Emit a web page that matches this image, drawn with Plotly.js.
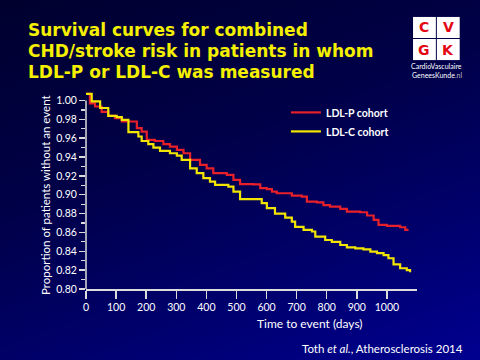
<!DOCTYPE html>
<html>
<head>
<meta charset="utf-8">
<script src="https://cdn.plot.ly/plotly-3.0.1.min.js"></script>
<style>
  html, body { margin: 0; padding: 0; }
  body {
    width: 480px; height: 360px; overflow: hidden;
    background: linear-gradient(160deg, #00002e 0%, #000048 40%, #00006a 70%, #000090 100%);
  }
  #chart { width: 480px; height: 360px; }
</style>
</head>
<body>
<div id="chart"></div>
<script>
// Time to event (days) and survival proportions
const ldlpDays = [0, 13, 30, 52, 74, 96, 119, 146, 169, 185, 202, 229, 257, 279, 302, 324, 346, 379, 401, 423, 468, 490, 512, 556, 579, 601, 618, 634, 662, 684, 717, 734, 767, 789, 811, 845, 867, 911, 934, 956, 972, 1000, 1044, 1061, 1072];
const ldlpSurv = [1.007, 0.997, 0.9936, 0.988, 0.9837, 0.9813, 0.9777, 0.9777, 0.9707, 0.967, 0.9583, 0.957, 0.9537, 0.951, 0.9476, 0.944, 0.937, 0.9317, 0.928, 0.923, 0.921, 0.9158, 0.9112, 0.911, 0.907, 0.906, 0.9034, 0.9016, 0.9016, 0.899, 0.898, 0.8927, 0.892, 0.889, 0.8874, 0.885, 0.882, 0.8814, 0.878, 0.8733, 0.868, 0.867, 0.8655, 0.8627, 0.8627];

const ldlcDays = [0, 19, 47, 74, 102, 119, 141, 157, 174, 185, 207, 224, 246, 279, 302, 318, 346, 368, 390, 412, 429, 457, 473, 490, 512, 562, 584, 601, 628, 662, 684, 695, 723, 751, 762, 795, 817, 845, 867, 895, 922, 945, 967, 989, 1005, 1022, 1044, 1066, 1077];
const ldlcSurv = [1.007, 0.999, 0.992, 0.9837, 0.9823, 0.9795, 0.9664, 0.9664, 0.9618, 0.957, 0.9537, 0.95, 0.9466, 0.944, 0.9416, 0.937, 0.928, 0.923, 0.9176, 0.914, 0.9105, 0.9105, 0.9087, 0.9034, 0.8953, 0.8953, 0.891, 0.8857, 0.88, 0.8757, 0.8715, 0.866, 0.8627, 0.861, 0.8556, 0.852, 0.85, 0.8467, 0.8442, 0.8432, 0.842, 0.8396, 0.838, 0.836, 0.8326, 0.8262, 0.822, 0.82, 0.8177];

const seriesNames = ['LDL-P cohort', 'LDL-C cohort'];
const xTicks = [0, 100, 200, 300, 400, 500, 600, 700, 800, 900, 1000];
const yTicks = [0.80, 0.82, 0.84, 0.86, 0.88, 0.90, 0.92, 0.94, 0.96, 0.98, 1.00];
const yTickText = yTicks.map(v => v.toFixed(2));

const titleLines = ['Survival curves for combined', 'CHD/stroke risk in patients in whom', 'LDL-P or LDL-C was measured'];
const xTitle = 'Time to event (days)';
const yTitle = 'Proportion of patients without an event';
const citation = 'Toth <i>et al.</i>, Atherosclerosis 2014';
const logoLetters = ['C', 'V', 'G', 'K'];

const FONT = 'Lato, "Open Sans", sans-serif';
const AXIS_COL = '#dcdcdc';

const traces = [
  { x: ldlpDays, y: ldlpSurv, name: seriesNames[0], type: 'scatter', mode: 'lines',
    line: { shape: 'hv', color: '#e8202a', width: 2.2 } },
  { x: ldlcDays, y: ldlcSurv, name: seriesNames[1], type: 'scatter', mode: 'lines',
    line: { shape: 'hv', color: '#f2e600', width: 2.2 } }
];

// logo geometry (paper coords)
const lx = [0.988, 1.060], lw = 0.069;
const ly = [1.274, 1.162], lh = 0.107;
const shapes = [
  { type: 'line', xref: 'paper', yref: 'y', x0: 0, x1: 0, y0: 0.8, y1: 1.0,
    line: { color: AXIS_COL, width: 1.5 } }
];
const annotations = [];
// title lines
const titleY = [1.313, 1.206, 1.099];
titleLines.forEach((t, i) => {
  annotations.push({ xref: 'paper', yref: 'paper', x: -0.1813, xanchor: 'left', y: titleY[i], yanchor: 'middle',
    text: '<b>' + t + '</b>', showarrow: false,
    font: { family: 'DejaVu Sans, sans-serif', size: 17, color: '#f5f000' } });
});
logoLetters.forEach((L, i) => {
  const cx = lx[i % 2], cy = ly[Math.floor(i / 2)];
  shapes.push({ type: 'rect', xref: 'paper', yref: 'paper', x0: cx, x1: cx + lw, y0: cy, y1: cy + lh,
    fillcolor: '#ffffff', line: { width: 0 } });
  annotations.push({ xref: 'paper', yref: 'paper', x: cx + lw / 2, y: cy + lh / 2, xanchor: 'center', yanchor: 'middle',
    text: '<b>' + L + '</b>', showarrow: false,
    font: { family: 'DejaVu Sans, sans-serif', size: 14, color: '#e30613' } });
});
annotations.push(
  { xref: 'paper', yref: 'paper', x: 1.059, y: 1.132, xanchor: 'center', yanchor: 'middle', text: 'CardioVasculaire', showarrow: false,
    font: { family: FONT, size: 7, color: '#ffffff' } },
  { xref: 'paper', yref: 'paper', x: 1.059, y: 1.088, xanchor: 'center', yanchor: 'middle', text: 'GeneesKunde<span style="color:#bbbbbb">.nl</span>', showarrow: false,
    font: { family: FONT, size: 7, color: '#ffffff' } },
  { xref: 'paper', yref: 'paper', x: 0.677, y: -0.1726, xanchor: 'center', yanchor: 'middle', text: xTitle, showarrow: false,
    font: { family: FONT, size: 12, color: '#ffffff' } },
  { xref: 'paper', yref: 'paper', x: 1.145, xanchor: 'right', y: -0.2995, yanchor: 'middle', text: citation, showarrow: false,
    font: { family: FONT, size: 11.5, color: '#ffffff' } },
  { xref: 'paper', yref: 'paper', x: -0.124, y: 0.477, xanchor: 'center', yanchor: 'middle', text: yTitle, textangle: -90, showarrow: false,
    font: { family: FONT, size: 11.5, color: '#ffffff' } }
);

const layout = {
  width: 480, height: 360,
  margin: { l: 86, r: 63, t: 92, b: 71 },
  paper_bgcolor: 'rgba(0,0,0,0)',
  plot_bgcolor: 'rgba(0,0,0,0)',
  xaxis: {
    range: [0, 1100], tickvals: xTicks, showgrid: false, zeroline: false,
    showline: true, linecolor: AXIS_COL, linewidth: 1.5,
    ticks: 'outside', ticklen: 8, tickcolor: AXIS_COL, tickwidth: 1.5,
    tickfont: { family: FONT, size: 10.5, color: '#ffffff' }
  },
  yaxis: {
    range: [0.8, 1.009], tickvals: yTicks, ticktext: yTickText, showgrid: false, zeroline: false,
    showline: false,
    ticks: 'outside', ticklen: 6, tickcolor: AXIS_COL, tickwidth: 1.5,
    tickfont: { family: FONT, size: 10.5, color: '#ffffff' },
    minor: { tickmode: 'linear', tick0: 0.8, dtick: 0.01, ticks: 'outside', ticklen: 4, tickcolor: AXIS_COL, tickwidth: 1.2 }
  },
  legend: {
    x: 0.604, xanchor: 'left', y: 0.97, yanchor: 'top',
    bgcolor: 'rgba(0,0,0,0)', borderwidth: 0, tracegroupgap: 0,
    font: { family: FONT, size: 10.5, color: '#ffffff', weight: 'bold' }
  },
  shapes: shapes,
  annotations: annotations,
  showlegend: true
};

Plotly.newPlot('chart', traces, layout, { displayModeBar: false, staticPlot: true });
</script>
</body>
</html>
